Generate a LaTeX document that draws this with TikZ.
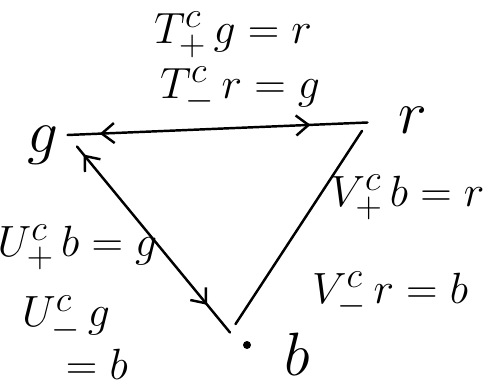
\documentclass[tikz,border=0pt]{standalone}
\usepackage{amsmath,amssymb}
\usepackage{xcolor}
\usetikzlibrary{arrows.meta,positioning,decorations.markings}
\tikzset{
  ed/.style={line width=1.4pt,line cap=round,black},
  twoar/.style 2 args={postaction={decorate},decoration={markings,
    mark=at position #1 with {\arrow{Straight Barb[length=2.5mm,width=4mm,line width=1.4pt,reversed]}},
    mark=at position #2 with {\arrow{Straight Barb[length=2.5mm,width=4mm,line width=1.4pt]}}}},
  vx/.style={font=\Huge,scale=1.4,inner sep=1pt},
  lb/.style={font=\Huge,inner sep=1pt,align=left}
}

\begin{document}
\begin{tikzpicture}
\useasboundingbox (0,0) rectangle (9.74,7.8);
\coordinate (gv) at (1.35,5.1); \coordinate (rv) at (7.35,5.35); \coordinate (bv) at (4.6,1.15);
\node[vx] (g) at (0.85,4.9) {$g$}; \node[vx] (r) at (8.25,5.4) {$r$}; \node[vx] (b) at (5.95,0.72) {$b$};
\fill (4.94,0.9) circle (0.08) coordinate (bdot);
\draw[ed,twoar={0.16}{0.81}] (gv)--(rv);
\draw[ed,twoar={0.16}{0.86},shorten <=0.3cm] (gv)--(bv);
\draw[ed,shorten <=0.2cm,shorten >=0.2cm] (rv)--(bv);
\node[lb] (tp) at (4.66,7.1) {$T^c_+\,g = r$}; \node[lb] (tm) at (4.8,6.0) {$T^c_-\,r = g$};
\node[lb] (vp) at (8.15,3.85) {$V^c_+\,b = r$}; \node[lb] (vm) at (7.8,1.9) {$V^c_-\,r = b$};
\node[lb] (up) at (1.55,2.85) {$U^c_+\,b = g$}; \node[lb] (um) at (1.5,1.05) {$U^c_-\,g$\\\quad$= b$};
\end{tikzpicture}
\end{document}
